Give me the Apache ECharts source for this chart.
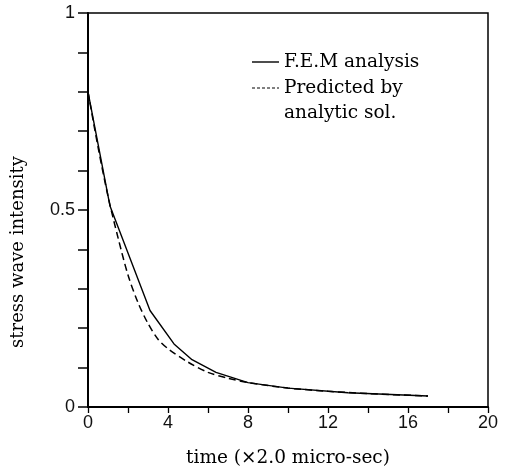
<!DOCTYPE html>
<html>
<head>
<meta charset="utf-8">
<script src="https://cdn.jsdelivr.net/npm/echarts@6/dist/echarts.min.js"></script>
<style>
html,body{margin:0;padding:0;background:#fff;}
#chart{width:505px;height:469px;}
</style>
</head>
<body>
<div id="chart"></div>
<script>
// Data
var femX = [0, 1.1, 3.1, 4.3, 5.2, 6.4, 8, 10, 13, 17];
var femY = [0.80, 0.51, 0.245, 0.16, 0.12, 0.088, 0.062, 0.048, 0.036, 0.028];
var anaX = [0, 0.5, 1, 1.5, 2, 2.5, 3, 3.5, 4, 5, 6, 7, 8, 10, 12, 14, 17];
var anaY = [0.80, 0.66, 0.535, 0.43, 0.335, 0.265, 0.212, 0.172, 0.148, 0.114, 0.088, 0.073, 0.062, 0.048, 0.040, 0.034, 0.028];
var xTicks = [0, 4, 8, 12, 16, 20];
var yTicks = [0, 0.5, 1];
var seriesNames = ['F.E.M analysis', 'Predicted by', 'analytic sol.'];
var xTitle = 'time (\u00d72.0 micro-sec)';
var yTitle = 'stress wave intensity';

function pairs(xs, ys) { return xs.map(function (x, i) { return [x, ys[i]]; }); }

var serif = 'DejaVu Serif';
var textFont = '18.5px "DejaVu Serif"';
var chart = echarts.init(document.getElementById('chart'), null, {renderer: 'canvas'});
chart.setOption({
  animation: false,
  backgroundColor: '#fff',
  grid: {left: 88, right: 17, top: 13, bottom: 62, show: true, borderColor: '#000', borderWidth: 1.5,
         containLabel: false, outerBoundsMode: 'none'},
  xAxis: {
    type: 'value', min: 0, max: 20, interval: 2,
    name: xTitle, nameLocation: 'middle', nameGap: 42,
    nameTextStyle: {fontFamily: serif, fontSize: 18.5, color: '#000'},
    axisLine: {show: true, lineStyle: {color: '#000', width: 2}},
    axisTick: {show: true, inside: false, length: 6, lineStyle: {color: '#000', width: 1.3}},
    axisLabel: {
      margin: 7, color: '#111', fontFamily: 'Liberation Sans', fontSize: 18,
      formatter: function (v) { return xTicks.indexOf(Math.round(v)) >= 0 && Math.abs(v - Math.round(v)) < 1e-6 ? String(Math.round(v)) : ''; }
    },
    splitLine: {show: false}
  },
  yAxis: {
    type: 'value', min: 0, max: 1, interval: 0.1,
    axisLine: {show: true, lineStyle: {color: '#000', width: 2}},
    axisTick: {show: true, inside: false, length: 10, lineStyle: {color: '#000', width: 1.5}},
    axisLabel: {
      margin: 13, color: '#111', fontFamily: 'Liberation Sans', fontSize: 18,
      formatter: function (v) {
        for (var i = 0; i < yTicks.length; i++) { if (Math.abs(v - yTicks[i]) < 1e-6) return String(yTicks[i]); }
        return '';
      }
    },
    splitLine: {show: false}
  },
  series: [
    {type: 'line', name: seriesNames[0], data: pairs(femX, femY), showSymbol: false, symbol: 'none',
     lineStyle: {color: '#000', width: 1.4, type: 'solid'}},
    {type: 'line', name: seriesNames[1] + ' ' + seriesNames[2], data: pairs(anaX, anaY), showSymbol: false, symbol: 'none', smooth: 0.3,
     lineStyle: {color: '#000', width: 1.5, type: [7, 4]}}
  ],
  graphic: [
    {type: 'line', shape: {x1: 252, y1: 62, x2: 279, y2: 62}, style: {stroke: '#000', lineWidth: 1.4}},
    {type: 'line', shape: {x1: 252, y1: 88, x2: 279, y2: 88}, style: {stroke: '#000', lineWidth: 1, lineDash: [3, 2]}},
    {type: 'text', x: 284, y: 62, style: {text: seriesNames[0], font: textFont, fill: '#000', verticalAlign: 'middle'}},
    {type: 'text', x: 284, y: 88, style: {text: seriesNames[1], font: textFont, fill: '#000', verticalAlign: 'middle'}},
    {type: 'text', x: 284, y: 113, style: {text: seriesNames[2], font: textFont, fill: '#000', verticalAlign: 'middle'}},
    {type: 'text', x: 18, y: 252, rotation: Math.PI / 2,
     style: {text: yTitle, font: '18px "DejaVu Serif"', fill: '#000', align: 'center', verticalAlign: 'middle'}}
  ]
});
</script>
</body>
</html>
